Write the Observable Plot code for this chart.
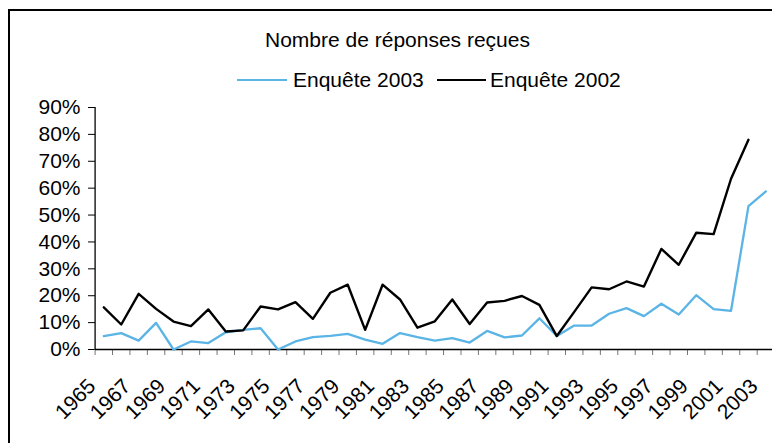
<!DOCTYPE html>
<html><head><meta charset="utf-8">
<script src="https://cdn.jsdelivr.net/npm/d3@7"></script>
<script src="https://cdn.jsdelivr.net/npm/@observablehq/plot@0.6"></script>
<style>
html,body{margin:0;padding:0;background:#fff;overflow:hidden}
body{width:772px;height:443px;position:relative;font-family:"Liberation Sans",Arial,sans-serif}
#frame{position:absolute;left:8px;top:9px;width:800px;height:500px;border-left:2px solid #000;border-top:2px solid #000;box-sizing:border-box}
.t{position:absolute;font-size:21px;line-height:21px;white-space:nowrap;color:#000}
.sw{position:absolute;height:2px}
#chart{position:absolute;left:0;top:96px}
</style></head><body>
<div id="frame"></div>
<div class="t" style="left:0;width:795px;text-align:center;top:29px">Nombre de réponses reçues</div>
<div class="sw" style="left:237px;width:50px;top:79px;background:#5ab4e5"></div>
<div class="t" style="left:293px;top:69px">Enquête 2003</div>
<div class="sw" style="left:437px;width:49px;top:79px;background:#000"></div>
<div class="t" style="left:490px;top:69px">Enquête 2002</div>
<div id="chart"></div>
<script>
// Years (categories)
const years = [1965,1966,1967,1968,1969,1970,1971,1972,1973,1974,1975,1976,1977,1978,1979,1980,1981,1982,1983,1984,1985,1986,1987,1988,1989,1990,1991,1992,1993,1994,1995,1996,1997,1998,1999,2000,2001,2002,2003];
// Enquête 2003 (%)
const enquete2003 = [5.0,6.1,3.3,9.9,0,3.0,2.4,6.4,7.3,7.9,0,3.0,4.6,5.1,5.8,3.7,2.1,6.1,4.6,3.3,4.2,2.6,6.9,4.5,5.2,11.6,5.0,8.9,8.9,13.3,15.4,12.4,17.0,13.0,20.2,15.0,14.4,53.3,58.8];
// Enquête 2002 (%)
const enquete2002 = [15.7,9.3,20.7,15.1,10.4,8.7,14.9,6.7,7.1,16.0,14.9,17.6,11.4,21.1,24.1,7.3,24.1,18.6,8.1,10.5,18.6,9.5,17.5,18.1,19.9,16.6,5.0,14.0,23.1,22.4,25.3,23.4,37.4,31.5,43.4,42.9,63.5,78.0,null];
// Axis ticks
const yTicks = [0,10,20,30,40,50,60,70,80,90];
const labelYears = [1965,1967,1969,1971,1973,1975,1977,1979,1981,1983,1985,1987,1989,1991,1993,1995,1997,1999,2001,2003];

const rows2003 = years.map((y,i)=>({year:y, v:enquete2003[i]})).filter(d=>d.v!=null);
const rows2002 = years.map((y,i)=>({year:y, v:enquete2002[i]})).filter(d=>d.v!=null);
const boundaries = years.map(y=>y-0.5).concat([years[years.length-1]+0.5]);

const chart = Plot.plot({
  width: 772, height: 347,
  marginLeft: 95, marginRight: 0, marginTop: 11, marginBottom: 94,
  style: {fontFamily: "Liberation Sans, Arial, sans-serif", fontSize: "21px", background: "transparent", color: "#000"},
  x: {type: "linear", domain: [1964.5, 2003.5], range: [94.6, 774.1], axis: null},
  y: {domain: [0, 90], axis: null},
  marks: [
    Plot.axisY({ticks: yTicks, tickFormat: d => d + "%", tickSize: 7, tickPadding: 8, fontSize: 21, stroke: "#000", label: null}),
    Plot.axisX({ticks: boundaries, tickSize: 6, tickFormat: () => "", stroke: "#777", label: null}),
    Plot.ruleX([1964.5], {stroke: "#000", strokeWidth: 1.3}),
    Plot.ruleY([0], {stroke: "#000", strokeWidth: 1.3}),
    Plot.text(labelYears, {x: d => d, frameAnchor: "bottom", text: d => String(d), rotate: -45, textAnchor: "end", lineAnchor: "bottom", dx: -7, dy: 38, fontSize: 21, fill: "#000"}),
    Plot.line(rows2003, {x: "year", y: "v", stroke: "#5ab4e5", strokeWidth: 2.3}),
    Plot.line(rows2002, {x: "year", y: "v", stroke: "#000", strokeWidth: 2.4})
  ]
});
document.getElementById("chart").appendChild(chart);
</script>
</body></html>
